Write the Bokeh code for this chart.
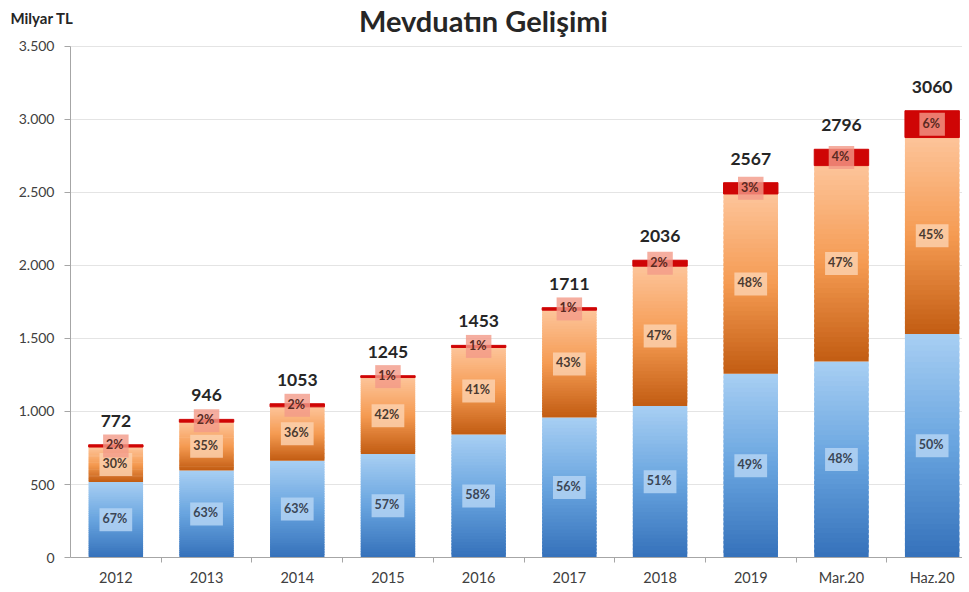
from bokeh.plotting import figure
from bokeh.models import Range1d, FixedTicker, ColumnDataSource
from bokeh.embed import file_html
from bokeh.resources import INLINE
from bokeh.core.properties import value

# ---- data ----
periods = ["2012", "2013", "2014", "2015", "2016", "2017", "2018", "2019", "Mar.20", "Haz.20"]
totals = [772, 946, 1053, 1245, 1453, 1711, 2036, 2567, 2796, 3060]
blue_pct = [67, 63, 63, 57, 58, 56, 51, 49, 48, 50]
orange_pct = [30, 35, 36, 42, 41, 43, 47, 48, 47, 45]
red_pct = [2, 2, 2, 1, 1, 1, 2, 3, 4, 6]
y_ticks = [0, 500, 1000, 1500, 2000, 2500, 3000, 3500]
y_tick_labels = ["0", "500", "1.000", "1.500", "2.000", "2.500", "3.000", "3.500"]
title_text = "Mevduatın Gelişimi"
unit_text = "Milyar TL"

FONT = "Lato"
N_SLICES = 40
BAR_W = 0.6
W, H = 962, 590
X_START, X_END = -1.2718, 9.3346
Y_START, Y_END = -226.0, 3815.0

xs = list(range(len(periods)))
blue_v = [t * b / 100 for t, b in zip(totals, blue_pct)]
red_v = [t * r / 100 for t, r in zip(totals, red_pct)]
orange_v = [t - b - r for t, b, r in zip(totals, blue_v, red_v)]


def hex2rgb(h):
    h = h.lstrip("#")
    return tuple(int(h[i:i + 2], 16) for i in (0, 2, 4))


def lerp(c1, c2, f):
    a, b = hex2rgb(c1), hex2rgb(c2)
    return "#%02x%02x%02x" % tuple(int(round(a[i] + (b[i] - a[i]) * f)) for i in range(3))


def gradient_source(bases, heights, c_bottom, c_mid, c_top):
    x, bot, top, col = [], [], [], []
    for i, (b0, h) in enumerate(zip(bases, heights)):
        for k in range(N_SLICES):
            f = (k + 0.5) / N_SLICES
            x.append(i)
            bot.append(b0 + h * k / N_SLICES)
            # slight overlap with the next slice to avoid anti-aliasing seams
            top.append(b0 + h * min(k + 1.6, N_SLICES) / N_SLICES)
            if f < 0.5:
                col.append(lerp(c_bottom, c_mid, f * 2))
            else:
                col.append(lerp(c_mid, c_top, (f - 0.5) * 2))
    return ColumnDataSource(dict(x=x, bottom=bot, top=top, color=col))


p = figure(width=W, height=H, output_backend="svg", toolbar_location=None,
           x_range=Range1d(X_START, X_END), y_range=Range1d(Y_START, Y_END),
           min_border_left=0, min_border_right=0, min_border_top=0, min_border_bottom=0)
p.outline_line_color = None
p.background_fill_color = "white"
p.xgrid.visible = False
p.ygrid.visible = False

# horizontal gridlines (from the y ticks)
p.segment(x0=-0.5, x1=X_END, y0=y_ticks[1:], y1=y_ticks[1:], line_color="#e4e4e4",
          line_width=1, level="underlay")

# bars
zeros = [0] * len(xs)
blue_src = gradient_source(zeros, blue_v, "#3571ba", "#68a4df", "#a8cff3")
p.vbar(x="x", bottom="bottom", top="top", width=BAR_W, source=blue_src,
       fill_color="color", line_color=None)
orange_src = gradient_source(blue_v, orange_v, "#c25c12", "#f59b52", "#fdc49a")
p.vbar(x="x", bottom="bottom", top="top", width=BAR_W, source=orange_src,
       fill_color="color", line_color=None)
red_bottom = [b + o for b, o in zip(blue_v, orange_v)]
p.vbar(x=xs, bottom=red_bottom, top=totals, width=BAR_W, fill_color="#cf0505",
       line_color="#cf0505", line_width=1)

# percentage labels
blue_mid = [b / 2 for b in blue_v]
orange_mid = [b + o / 2 for b, o in zip(blue_v, orange_v)]
red_mid = [rb + r / 2 for rb, r in zip(red_bottom, red_v)]


def pct_labels(ys, pcts, bg, alpha, color):
    p.text(x=xs, y=ys, text=[f"{v}%" for v in pcts], text_align="center", text_baseline="middle",
           text_font=value(FONT), text_font_size="12.5px", text_font_style="bold", text_color=color,
           background_fill_color=bg, background_fill_alpha=alpha, padding=[3, 5, 3, 5])


pct_labels(blue_mid, blue_pct, "#b4d4f3", 0.85, "#3a4656")
pct_labels(orange_mid, orange_pct, "#fcd0ad", 0.85, "#4a3a30")
pct_labels(red_mid, red_pct, "#f29a88", 0.8, "#5a2a22")

# totals
p.text(x=xs, y=totals, text=[str(t) for t in totals], text_align="center", text_baseline="middle",
       y_offset=-24, text_font=value(FONT), text_font_size="17.5px", text_font_style="bold",
       text_color="#262626")

# title and unit
p.text(x=[4.053], y=[3680], text=[title_text], text_align="center", text_baseline="middle",
       text_font=value(FONT), text_font_size="29px", text_font_style="bold", text_color="#262626")
p.text(x=[-1.1616], y=[3696], text=[unit_text], text_align="left", text_baseline="middle",
       text_font=value(FONT), text_font_size="15px", text_font_style="bold", text_color="#262626")

# axes
p.xaxis.fixed_location = 0
p.xaxis.bounds = (-0.5, X_END)
p.xaxis.ticker = FixedTicker(ticks=xs, minor_ticks=[i + 0.5 for i in xs[:-1]])
p.xaxis.major_label_overrides = {i: s for i, s in enumerate(periods)}
p.xaxis.major_tick_line_color = None
p.xaxis.major_tick_out = 0
p.xaxis.major_tick_in = 0
p.xaxis.minor_tick_out = 5
p.xaxis.minor_tick_in = 0
p.xaxis.minor_tick_line_color = "#a6a6a6"
p.xaxis.axis_line_color = "#a6a6a6"
p.xaxis.major_label_standoff = 6
p.xaxis.major_label_text_font = FONT
p.xaxis.major_label_text_font_size = "14.5px"
p.xaxis.major_label_text_color = "#404040"

p.yaxis.fixed_location = -0.5
p.yaxis.bounds = (0, 3500)
p.yaxis.ticker = FixedTicker(ticks=y_ticks, minor_ticks=[])
p.yaxis.major_label_overrides = {t: s for t, s in zip(y_ticks, y_tick_labels)}
p.yaxis.major_tick_out = 6
p.yaxis.major_tick_in = 0
p.yaxis.major_tick_line_color = "#a6a6a6"
p.yaxis.axis_line_color = "#a6a6a6"
p.yaxis.major_label_standoff = 10
p.yaxis.major_label_text_font = FONT
p.yaxis.major_label_text_font_size = "14px"
p.yaxis.major_label_text_color = "#404040"

open("out.html", "w").write(file_html(p, INLINE))
